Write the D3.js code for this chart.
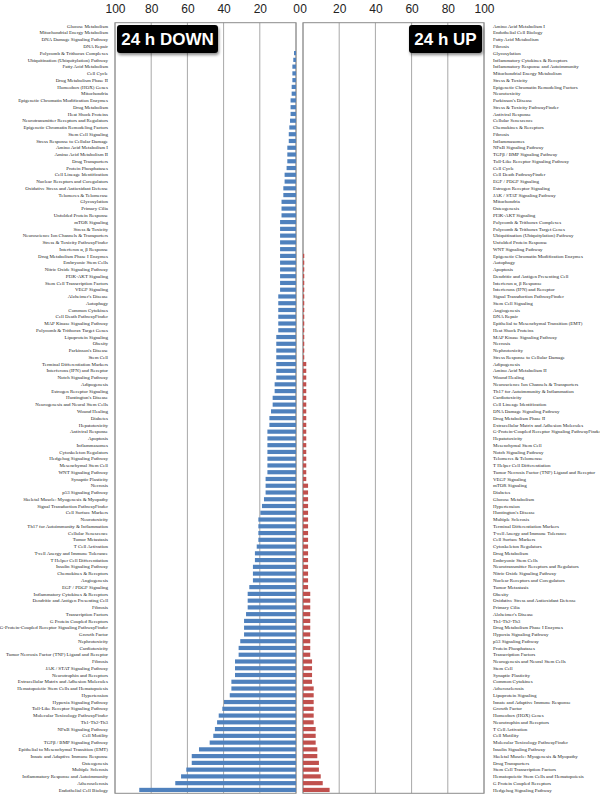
<!DOCTYPE html>
<html>
<head>
<meta charset="utf-8">
<script src="https://cdn.jsdelivr.net/npm/d3@7"></script>
<style>
  body { margin: 0; background: #fff; }
  svg { display: block; }
</style>
</head>
<body>
<div id="vis"></div>
<script>
// Data
const tickValues = [0, 20, 40, 60, 80, 100];

const downLabels = [
    "Glucose Metabolism", "Mitochondrial Energy Metabolism", "DNA Damage Signaling Pathway", "DNA Repair",
    "Polycomb & Trithorax Complexes", "Ubiquitination (Ubiquitylation) Pathway", "Fatty Acid Metabolism", "Cell Cycle",
    "Drug Metabolism Phase II", "Homeobox (HOX) Genes", "Mitochondria", "Epigenetic Chromatin Modification Enzymes",
    "Drug Metabolism", "Heat Shock Proteins", "Neurotransmitter Receptors and Regulators", "Epigenetic Chromatin Remodeling Factors",
    "Stem Cell Signaling", "Stress Response to Cellular Damage", "Amino Acid Metabolism I", "Amino Acid Metabolism II",
    "Drug Transporters", "Protein Phosphatases", "Cell Lineage Identification", "Nuclear Receptors and Coregulators",
    "Oxidative Stress and Antioxidant Defense", "Telomeres & Telomerase", "Glycosylation", "Primary Cilia",
    "Unfolded Protein Response", "mTOR Signaling", "Stress & Toxicity", "Neuroscience Ion Channels & Transporters",
    "Stress & Toxicity PathwayFinder", "Interferon \u03b1, \u03b2 Response", "Drug Metabolism Phase I Enzymes", "Embryonic Stem Cells",
    "Nitric Oxide Signaling Pathway", "PI3K-AKT Signaling", "Stem Cell Transcription Factors", "VEGF Signaling",
    "Alzheimer's Disease", "Autophagy", "Common Cytokines", "Cell Death PathwayFinder",
    "MAP Kinase Signaling Pathway", "Polycomb & Trithorax Target Genes", "Lipoprotein Signaling", "Obesity",
    "Parkinson's Disease", "Stem Cell", "Terminal Differentiation Markers", "Interferons (IFN) and Receptor",
    "Notch Signaling Pathway", "Adipogenesis", "Estrogen Receptor Signaling", "Huntington's Disease",
    "Neurogenesis and Neural Stem Cells", "Wound Healing", "Diabetes", "Hepatotoxicity",
    "Antiviral Response", "Apoptosis", "Inflammasomes", "Cytoskeleton Regulators",
    "Hedgehog Signaling Pathway", "Mesenchymal Stem Cell", "WNT Signaling Pathway", "Synaptic Plasticity",
    "Necrosis", "p53 Signaling Pathway", "Skeletal Muscle: Myogenesis & Myopathy", "Signal Transduction PathwayFinder",
    "Cell Surface Markers", "Neurotoxicity", "Th17 for Autoimmunity & Inflammation", "Cellular Senescence",
    "Tumor Metastasis", "T Cell Activation", "T-cell Anergy and Immune Tolerance", "T Helper Cell Differentiation",
    "Insulin Signaling Pathway", "Chemokines & Receptors", "Angiogenesis", "EGF / PDGF Signaling",
    "Inflammatory Cytokines & Receptors", "Dendritic and Antigen Presenting Cell", "Fibrosis", "Transcription Factors",
    "G Protein Coupled Receptors", "G-Protein-Coupled Receptor Signaling PathwayFinder", "Growth Factor", "Nephrotoxicity",
    "Cardiotoxicity", "Tumor Necrosis Factor (TNF) Ligand and Receptor", "Fibrosis", "JAK / STAT Signaling Pathway",
    "Neurotrophin and Receptors", "Extracellular Matrix and Adhesion Molecules", "Hematopoietic Stem Cells and Hematopoiesis", "Hypertension",
    "Hypoxia Signaling Pathway", "Toll-Like Receptor Signaling Pathway", "Molecular Toxicology PathwayFinder", "Th1-Th2-Th3",
    "NF\u03baB Signaling Pathway", "Cell Motility", "TGF\u03b2 / BMP Signaling Pathway", "Epithelial to Mesenchymal Transition (EMT)",
    "Innate and Adaptive Immune Response", "Osteogenesis", "Multiple Sclerosis", "Inflammatory Response and Autoimmunity",
    "Atherosclerosis", "Endothelial Cell Biology"
];

const downValues = [
    0, 0, 0, 0, 1.1, 1.5, 2, 2,
    2, 2.4, 2.4, 3, 3, 3, 3.3, 3.7,
    4, 4, 4.8, 4.8, 4.8, 5.2, 6.3, 6.3,
    7, 7, 8, 8, 8, 8.8, 8.8, 8.8,
    8.8, 8.8, 8.8, 8.8, 8.8, 8.8, 8.8, 8.8,
    9.8, 9.8, 9.8, 9.8, 9.8, 9.8, 10.9, 10.9,
    10.9, 10.9, 10.9, 10.9, 10.9, 11.8, 11.8, 12.9,
    12.9, 13.8, 14.7, 14.7, 15.8, 15.8, 15.8, 15.8,
    15.8, 15.8, 15.8, 16.8, 16.8, 16.8, 17.7, 18.8,
    19.7, 20.8, 20.8, 20.8, 20.8, 21.7, 22.7, 22.7,
    23.8, 23.8, 23.8, 25.8, 26.7, 26.7, 26.7, 27.6,
    28.7, 28.7, 28.7, 30.8, 31.7, 31.7, 33.7, 33.7,
    33.7, 35.7, 35.7, 36.6, 39.8, 40.7, 42.7, 43.6,
    44.8, 45.7, 47.7, 53.6, 57.6, 57.6, 60.6, 63.5,
    66.7, 86.6
];

const upLabels = [
    "Amino Acid Metabolism I", "Endothelial Cell Biology", "Fatty Acid Metabolism", "Fibrosis",
    "Glycosylation", "Inflammatory Cytokines & Receptors", "Inflammatory Response and Autoimmunity", "Mitochondrial Energy Metabolism",
    "Stress & Toxicity", "Epigenetic Chromatin Remodeling Factors", "Neurotoxicity", "Parkinson's Disease",
    "Stress & Toxicity PathwayFinder", "Antiviral Response", "Cellular Senescence", "Chemokines & Receptors",
    "Fibrosis", "Inflammasomes", "NF\u03baB Signaling Pathway", "TGF\u03b2 / BMP Signaling Pathway",
    "Toll-Like Receptor Signaling Pathway", "Cell Cycle", "Cell Death PathwayFinder", "EGF / PDGF Signaling",
    "Estrogen Receptor Signaling", "JAK / STAT Signaling Pathway", "Mitochondria", "Osteogenesis",
    "PI3K-AKT Signaling", "Polycomb & Trithorax Complexes", "Polycomb & Trithorax Target Genes", "Ubiquitination (Ubiquitylation) Pathway",
    "Unfolded Protein Response", "WNT Signaling Pathway", "Epigenetic Chromatin Modification Enzymes", "Autophagy",
    "Apoptosis", "Dendritic and Antigen Presenting Cell", "Interferon \u03b1, \u03b2 Response", "Interferons (IFN) and Receptor",
    "Signal Transduction PathwayFinder", "Stem Cell Signaling", "Angiogenesis", "DNA Repair",
    "Epithelial to Mesenchymal Transition (EMT)", "Heat Shock Proteins", "MAP Kinase Signaling Pathway", "Necrosis",
    "Nephrotoxicity", "Stress Response to Cellular Damage", "Adipogenesis", "Amino Acid Metabolism II",
    "Wound Healing", "Neuroscience Ion Channels & Transporters", "Th17 for Autoimmunity & Inflammation", "Cardiotoxicity",
    "Cell Lineage Identification", "DNA Damage Signaling Pathway", "Drug Metabolism Phase II", "Extracellular Matrix and Adhesion Molecules",
    "G-Protein-Coupled Receptor Signaling PathwayFinder", "Hepatotoxicity", "Mesenchymal Stem Cell", "Notch Signaling Pathway",
    "Telomeres & Telomerase", "T Helper Cell Differentiation", "Tumor Necrosis Factor (TNF) Ligand and Receptor", "VEGF Signaling",
    "mTOR Signaling", "Diabetes", "Glucose Metabolism", "Hypertension",
    "Huntington's Disease", "Multiple Sclerosis", "Terminal Differentiation Markers", "T-cell Anergy and Immune Tolerance",
    "Cell Surface Markers", "Cytoskeleton Regulators", "Drug Metabolism", "Embryonic Stem Cells",
    "Neurotransmitter Receptors and Regulators", "Nitric Oxide Signaling Pathway", "Nuclear Receptors and Coregulators", "Tumor Metastasis",
    "Obesity", "Oxidative Stress and Antioxidant Defense", "Primary Cilia", "Alzheimer's Disease",
    "Th1-Th2-Th3", "Drug Metabolism Phase I Enzymes", "Hypoxia Signaling Pathway", "p53 Signaling Pathway",
    "Protein Phosphatases", "Transcription Factors", "Neurogenesis and Neural Stem Cells", "Stem Cell",
    "Synaptic Plasticity", "Common Cytokines", "Atherosclerosis", "Lipoprotein Signaling",
    "Innate and Adaptive Immune Response", "Growth Factor", "Homeobox (HOX) Genes", "Neurotrophin and Receptors",
    "T Cell Activation", "Cell Motility", "Molecular Toxicology PathwayFinder", "Insulin Signaling Pathway",
    "Skeletal Muscle: Myogenesis & Myopathy", "Drug Transporters", "Stem Cell Transcription Factors", "Hematopoietic Stem Cells and Hematopoiesis",
    "G Protein Coupled Receptors", "Hedgehog Signaling Pathway"
];

const upValues = [
    0, 0, 0, 0, 0, 0, 0, 0,
    0, 0, 0, 0, 0, 0, 0, 0,
    0, 0, 0, 0, 0, 0, 0, 0,
    0, 0, 0, 0, 0, 0, 0, 0,
    0, 0, 0.7, 0.7, 0.7, 0.7, 0.7, 0.7,
    0.7, 0.7, 0.7, 0.7, 0.7, 0.7, 0.7, 0.7,
    0.7, 0.7, 1.8, 1.8, 1.8, 1.8, 1.8, 1.8,
    1.8, 1.8, 1.8, 1.8, 1.8, 1.8, 1.8, 1.8,
    1.8, 1.8, 1.8, 1.8, 2.8, 2.8, 2.8, 2.8,
    2.8, 2.8, 2.8, 2.8, 2.8, 2.8, 2.8, 2.8,
    2.8, 2.8, 2.8, 2.8, 4, 4, 4, 4,
    4, 4, 4, 4, 4, 4, 5, 5,
    5, 5, 5.9, 5.9, 5.9, 5.9, 5.9, 5.9,
    7, 7, 7, 7.9, 7.9, 8.8, 8.8, 9.8,
    10.9, 14.7
];

// Layout
const width = 600, height = 794;
const plotTop = 22.7, plotBottom = 793.3;
const leftPanel = { x0: 115, x1: 296 };
const rightPanel = { x0: 303, x1: 484 };

const svg = d3.select("#vis")
    .append("svg")
    .attr("width", width)
    .attr("height", height);

// drop shadow for the title boxes
const shadow = svg.append("defs").append("filter")
    .attr("id", "shadow")
    .attr("x", "-20%").attr("y", "-20%")
    .attr("width", "140%").attr("height", "160%");
shadow.append("feDropShadow")
    .attr("dx", 1).attr("dy", 2)
    .attr("stdDeviation", 1.5)
    .attr("flood-color", "#000")
    .attr("flood-opacity", 0.45);

function drawPanel(labels, values, scale, side, color) {
    const y = d3.scaleBand()
        .domain(d3.range(labels.length))
        .range([plotTop, plotBottom])
        .paddingInner(0.38)
        .paddingOuter(0.19);

    const g = svg.append("g").attr("class", "panel-" + side);
    const [r0, r1] = d3.extent(scale.range());

    // gridlines
    g.selectAll(".grid")
        .data(tickValues)
        .enter()
        .append("line")
        .attr("x1", d => scale(d))
        .attr("x2", d => scale(d))
        .attr("y1", plotTop)
        .attr("y2", plotBottom)
        .style("stroke", "#a8a8a8")
        .style("stroke-width", 1);

    // frame
    g.append("rect")
        .attr("x", r0)
        .attr("y", plotTop)
        .attr("width", r1 - r0)
        .attr("height", plotBottom - plotTop)
        .style("fill", "none")
        .style("stroke", "#8c8c8c")
        .style("stroke-width", 1);

    // bars
    g.selectAll(".bar")
        .data(values)
        .enter()
        .append("rect")
        .attr("class", "bar")
        .attr("x", d => Math.min(scale(0), scale(d)))
        .attr("y", (d, i) => y(i))
        .attr("width", d => Math.abs(scale(d) - scale(0)))
        .attr("height", y.bandwidth())
        .style("fill", color);

    // category labels
    g.selectAll(".cat")
        .data(labels)
        .enter()
        .append("text")
        .attr("class", "cat")
        .attr("x", side === "left" ? 108 : 493)
        .attr("y", (d, i) => y(i) + y.bandwidth() / 2)
        .attr("dy", "0.33em")
        .attr("text-anchor", side === "left" ? "end" : "start")
        .style("font-family", "'Liberation Serif', 'Times New Roman', serif")
        .style("font-size", "4.95px")
        .style("fill", "#222")
        .text(d => d);

    // top axis
    const axis = g.append("g")
        .attr("transform", "translate(0, 13)")
        .call(d3.axisTop(scale).tickValues(tickValues).tickSize(0).tickPadding(0));
    axis.select(".domain").remove();
    axis.selectAll("text")
        .style("font-family", "'Liberation Sans', Arial, sans-serif")
        .style("font-size", "12px")
        .style("fill", "#222");
}

const xDown = d3.scaleLinear().domain([100, 0]).range([leftPanel.x0, leftPanel.x1]);
const xUp = d3.scaleLinear().domain([0, 100]).range([rightPanel.x0, rightPanel.x1]);

drawPanel(downLabels, downValues, xDown, "left", "#4f81bd");
drawPanel(upLabels, upValues, xUp, "right", "#c0504d");

// title boxes
function titleBox(x, y, w, h, label) {
    const g = svg.append("g");
    g.append("rect")
        .attr("x", x).attr("y", y)
        .attr("width", w).attr("height", h)
        .attr("rx", 3)
        .style("fill", "#050505")
        .attr("filter", "url(#shadow)");
    g.append("text")
        .attr("x", x + w / 2)
        .attr("y", y + h / 2)
        .attr("dy", "0.36em")
        .attr("text-anchor", "middle")
        .style("font-family", "'Liberation Sans', Arial, sans-serif")
        .style("font-weight", "bold")
        .style("font-size", "17px")
        .style("fill", "#fff")
        .text(label);
}

titleBox(117, 25, 101, 28, "24 h DOWN");
titleBox(409, 25, 73, 28, "24 h UP");
</script>
</body>
</html>
